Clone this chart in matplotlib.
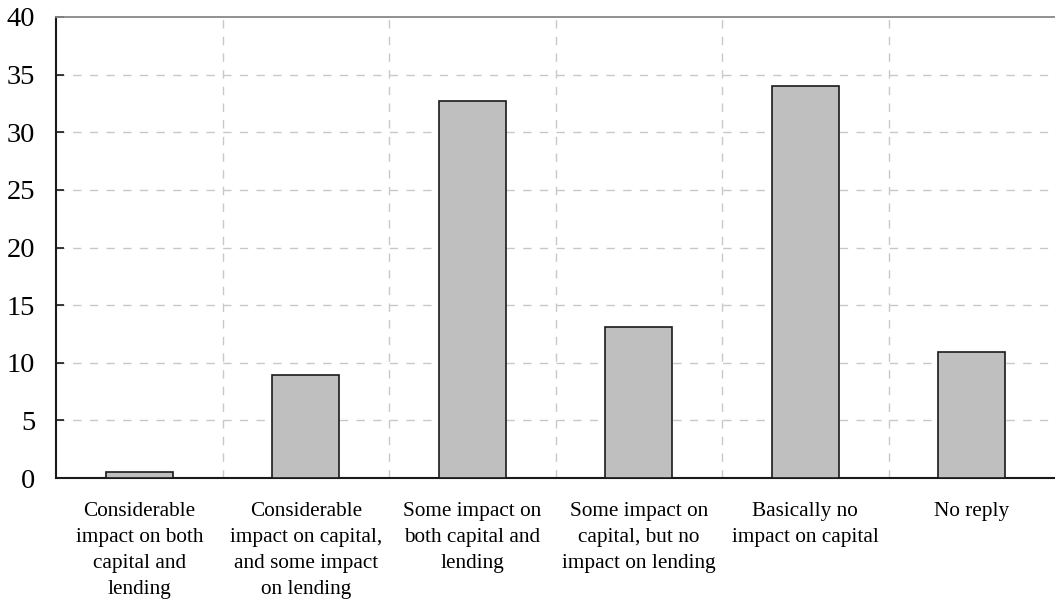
import matplotlib
matplotlib.use("Agg")
import matplotlib.pyplot as plt
import numpy as np

categories = [
    "Considerable\nimpact on both\ncapital and\nlending",
    "Considerable\nimpact on capital,\nand some impact\non lending",
    "Some impact on\nboth capital and\nlending",
    "Some impact on\ncapital, but no\nimpact on lending",
    "Basically no\nimpact on capital",
    "No reply",
]
values = [0.5, 8.9, 32.7, 13.1, 34.0, 10.9]
yticks = [0, 5, 10, 15, 20, 25, 30, 35, 40]

plt.rcParams['font.family'] = ['Liberation Serif', 'DejaVu Serif']

fig = plt.figure(figsize=(10.55, 5.99), dpi=100)
ax = fig.add_axes([56/1055, 1 - 478/599, (1055 - 56)/1055, (478 - 17)/599])

x = np.arange(len(categories))
ax.bar(x, values, width=0.4, color='#bfbfbf', edgecolor='#1a1a1a', linewidth=1.2, zorder=3)

ax.set_xlim(-0.5, len(categories) - 0.5)
ax.set_ylim(0, 40)
ax.set_yticks(yticks)
ax.set_yticklabels([str(t) for t in yticks], fontsize=20.5)

ax.set_xticks(x)
ax.set_xticklabels(categories, fontsize=15.3, linespacing=1.52)
ax.tick_params(axis='x', length=0, pad=17)
ax.tick_params(axis='y', direction='in', length=6, width=1.2, pad=15, color='#1a1a1a')

# gridlines
for b in np.arange(0.5, len(categories) - 0.5, 1.0):
    ax.axvline(b, color='#c8c8c8', linestyle=(0, (6, 6)), linewidth=1, zorder=1)
for t in yticks[1:-1]:
    ax.axhline(t, color='#c8c8c8', linestyle=(0, (6, 6)), linewidth=1, zorder=1)

ax.spines['left'].set_color('#1a1a1a')
ax.spines['left'].set_linewidth(1.5)
ax.spines['bottom'].set_color('#1a1a1a')
ax.spines['bottom'].set_linewidth(1.5)
ax.spines['top'].set_color('#888888')
ax.spines['top'].set_linewidth(1.3)
ax.spines['right'].set_visible(False)

fig.savefig("out.png", dpi=100)
